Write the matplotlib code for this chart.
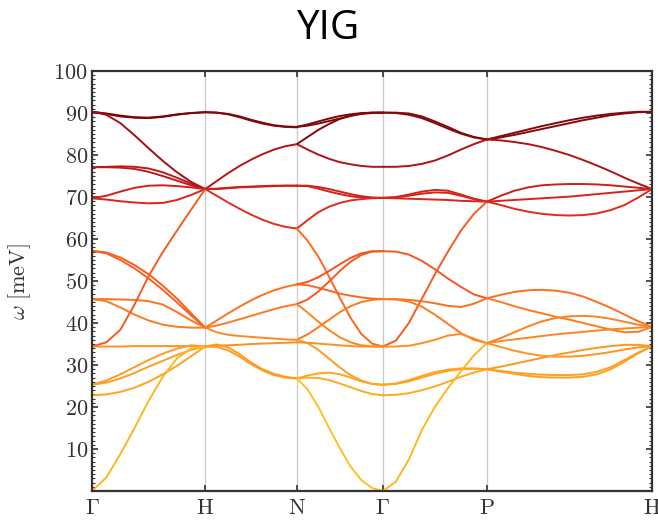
import numpy as np
import matplotlib
matplotlib.use("Agg")
import matplotlib.pyplot as plt
from matplotlib.colors import LinearSegmentedColormap
from matplotlib.ticker import MultipleLocator

plt.rcParams["mathtext.fontset"] = "cm"

# high-symmetry points along the path (cumulative k distance)
k_labels = [r"$\Gamma$", r"$\mathrm{H}$", r"$\mathrm{N}$", r"$\Gamma$", r"$\mathrm{P}$", r"$\mathrm{H}$"]
k_ticks = [0.0, 1.0, 1.81, 2.57, 3.49, 4.95]

# magnon energies (meV) sampled evenly along each segment
seg_G_H = [
    [90.3, 89.8, 89.2, 88.9, 88.8, 89.1, 89.6, 90.0, 90.2],
    [90.3, 89.9, 89.4, 89.0, 88.9, 89.2, 89.7, 90.0, 90.2],
    [90.3, 89.6, 87.6, 84.7, 81.6, 78.6, 75.9, 73.6, 71.9],
    [77.1, 77.2, 77.3, 77.2, 76.8, 75.9, 74.6, 73.2, 71.9],
    [77.1, 77.1, 77.0, 76.7, 76.0, 75.0, 73.9, 72.8, 71.9],
    [69.7, 70.3, 71.3, 72.2, 72.7, 72.8, 72.6, 72.3, 71.9],
    [69.7, 69.4, 69.0, 68.7, 68.5, 68.6, 69.3, 70.5, 71.9],
    [57.2, 56.8, 55.6, 53.8, 51.6, 48.9, 45.8, 42.3, 38.9],
    [57.2, 56.6, 55.0, 53.0, 50.6, 47.9, 44.9, 41.8, 38.9],
    [45.7, 45.7, 45.6, 45.5, 45.2, 44.4, 42.6, 40.6, 38.9],
    [45.7, 45.2, 43.7, 42.0, 40.6, 39.6, 39.1, 38.9, 38.9],
    [34.4, 35.4, 38.4, 44.4, 51.2, 56.9, 62.0, 67.0, 71.9],
    [34.4, 34.4, 34.4, 34.5, 34.5, 34.5, 34.5, 34.5, 34.4],
    [25.3, 26.3, 27.8, 29.5, 31.2, 32.7, 33.9, 34.7, 34.4],
    [25.3, 25.8, 26.8, 28.1, 29.6, 31.0, 32.4, 33.6, 34.4],
    [22.8, 23.0, 23.6, 24.6, 26.0, 27.8, 29.8, 32.1, 34.4],
    [0.0, 3.2, 8.8, 15.0, 21.5, 27.2, 31.6, 33.9, 34.4],
]

seg_H_N = [
    [90.2, 90.1, 89.8, 89.2, 88.4, 87.7, 87.1, 86.8, 86.7],
    [90.2, 90.1, 89.7, 89.0, 88.2, 87.5, 87.0, 86.7, 86.6],
    [71.9, 73.8, 75.7, 77.4, 78.9, 80.2, 81.3, 82.1, 82.6],
    [71.9, 72.0, 72.2, 72.4, 72.5, 72.6, 72.7, 72.7, 72.7],
    [71.9, 71.9, 72.1, 72.3, 72.4, 72.5, 72.6, 72.7, 72.7],
    [71.9, 70.3, 68.7, 67.2, 65.8, 64.6, 63.6, 62.9, 62.5],
    [38.9, 40.6, 42.3, 43.9, 45.4, 46.7, 47.8, 48.6, 49.2],
    [38.9, 39.4, 40.1, 40.9, 41.7, 42.5, 43.3, 44.0, 44.5],
    [38.9, 37.8, 37.2, 36.9, 36.7, 36.5, 36.3, 36.1, 36.0],
    [34.4, 34.6, 34.7, 34.8, 35.0, 35.1, 35.2, 35.3, 35.4],
    [34.4, 34.9, 34.2, 32.6, 30.6, 29.0, 27.9, 27.2, 26.8],
    [34.4, 34.3, 33.5, 32.0, 30.2, 28.7, 27.6, 27.0, 26.8],
]

seg_N_G = [
    [86.7, 87.3, 88.0, 88.7, 89.3, 89.7, 90.0, 90.1, 90.1],
    [86.7, 87.0, 87.5, 88.1, 88.7, 89.3, 89.8, 90.0, 90.1],
    [82.6, 84.3, 86.0, 87.4, 88.6, 89.4, 89.9, 90.1, 90.1],
    [82.6, 81.3, 80.1, 79.1, 78.3, 77.8, 77.4, 77.2, 77.2],
    [72.7, 72.7, 72.4, 71.9, 71.3, 70.7, 70.2, 69.9, 69.8],
    [72.7, 72.6, 72.0, 71.3, 70.7, 70.2, 69.9, 69.8, 69.8],
    [62.5, 64.5, 66.4, 67.7, 68.6, 69.2, 69.5, 69.7, 69.8],
    [62.5, 59.6, 55.8, 51.0, 46.0, 41.2, 37.4, 35.1, 34.4],
    [49.2, 49.8, 50.9, 52.4, 54.0, 55.5, 56.6, 57.1, 57.1],
    [49.2, 49.0, 48.4, 47.7, 47.0, 46.5, 46.1, 45.8, 45.7],
    [44.5, 45.6, 47.5, 49.9, 52.4, 54.6, 56.2, 57.0, 57.1],
    [44.5, 42.5, 40.3, 38.3, 36.6, 35.4, 34.7, 34.4, 34.4],
    [36.0, 37.3, 39.0, 40.8, 42.6, 44.0, 45.0, 45.5, 45.7],
    [36.0, 35.2, 33.6, 31.5, 29.4, 27.6, 26.3, 25.5, 25.3],
    [35.4, 35.3, 35.1, 34.9, 34.7, 34.5, 34.4, 34.4, 34.4],
    [26.8, 27.5, 28.0, 28.2, 27.8, 27.0, 26.1, 25.5, 25.3],
    [26.8, 27.0, 26.9, 26.4, 25.6, 24.7, 23.8, 23.1, 22.8],
    [26.8, 24.2, 20.0, 15.0, 10.2, 5.8, 2.6, 0.7, 0.0],
]

seg_G_P = [
    [90.1, 90.1, 89.9, 89.2, 88.0, 86.7, 85.3, 84.3, 83.7],
    [90.1, 90.0, 89.6, 88.8, 87.6, 86.3, 85.1, 84.2, 83.7],
    [77.2, 77.2, 77.4, 77.9, 78.7, 79.9, 81.3, 82.6, 83.7],
    [69.8, 70.0, 70.6, 71.3, 71.7, 71.5, 70.6, 69.6, 68.9],
    [69.8, 69.9, 70.3, 70.8, 71.1, 71.0, 70.3, 69.5, 68.9],
    [69.8, 69.7, 69.6, 69.5, 69.4, 69.3, 69.1, 69.0, 68.9],
    [34.4, 35.8, 40.0, 45.8, 51.6, 57.0, 62.0, 66.0, 68.9],
    [57.1, 57.0, 56.3, 54.8, 52.8, 50.6, 48.6, 46.8, 45.9],
    [45.7, 45.7, 45.5, 45.2, 44.7, 44.1, 43.8, 44.6, 45.9],
    [45.7, 45.6, 45.1, 43.9, 42.0, 39.8, 37.6, 36.0, 35.2],
    [34.4, 34.4, 34.6, 35.2, 36.0, 37.0, 37.4, 36.3, 35.2],
    [25.3, 25.6, 26.4, 27.4, 28.3, 28.9, 29.2, 29.2, 29.0],
    [25.3, 25.5, 26.1, 27.0, 27.9, 28.6, 29.0, 29.1, 29.0],
    [22.8, 22.9, 23.3, 24.0, 24.9, 26.0, 27.2, 28.2, 29.0],
    [0.0, 2.2, 7.5, 14.5, 20.0, 24.5, 28.5, 32.3, 35.2],
]

seg_P_H = [
    [83.7, 84.5, 85.3, 86.1, 86.9, 87.6, 88.3, 88.9, 89.4, 89.8, 90.1, 90.3, 90.3],
    [83.7, 84.2, 84.8, 85.5, 86.2, 86.9, 87.6, 88.3, 88.9, 89.5, 89.9, 90.2, 90.3],
    [83.7, 83.5, 83.1, 82.6, 81.9, 81.0, 80.0, 78.8, 77.5, 76.1, 74.6, 73.2, 71.9],
    [68.9, 70.3, 71.5, 72.3, 72.8, 73.0, 73.1, 73.1, 73.0, 72.8, 72.5, 72.2, 71.9],
    [68.9, 69.1, 69.3, 69.5, 69.7, 69.9, 70.1, 70.4, 70.7, 71.0, 71.3, 71.6, 71.9],
    [68.9, 68.1, 67.2, 66.5, 66.0, 65.7, 65.6, 65.7, 66.1, 66.9, 68.1, 69.9, 71.9],
    [45.9, 46.7, 47.4, 47.8, 47.9, 47.7, 47.2, 46.3, 45.0, 43.6, 42.0, 40.4, 39.1],
    [45.9, 45.0, 44.0, 43.1, 42.3, 41.5, 40.8, 40.0, 39.2, 38.4, 37.8, 37.9, 39.1],
    [35.2, 36.4, 37.8, 39.2, 40.4, 41.2, 41.6, 41.7, 41.5, 41.0, 40.3, 39.6, 39.1],
    [35.2, 35.7, 36.1, 36.5, 36.9, 37.3, 37.6, 37.9, 38.2, 38.5, 38.7, 38.9, 39.1],
    [35.2, 34.3, 33.4, 32.7, 32.2, 32.0, 32.0, 32.2, 32.6, 33.1, 33.7, 34.2, 34.5],
    [29.0, 29.6, 30.3, 31.0, 31.7, 32.4, 33.0, 33.6, 34.1, 34.5, 34.8, 34.8, 34.5],
    [29.0, 28.6, 28.2, 27.9, 27.7, 27.6, 27.6, 27.8, 28.4, 29.5, 31.2, 33.0, 34.5],
    [29.0, 28.4, 27.9, 27.4, 27.1, 27.0, 27.0, 27.2, 27.8, 29.0, 30.8, 32.8, 34.5],
]

segments = [seg_G_H, seg_H_N, seg_N_G, seg_G_P, seg_P_H]

# yellow (low energy) -> dark red (high energy)
band_cmap = LinearSegmentedColormap.from_list("magnon", [
    (0.0, "#ffd21f"), (22 / 90, "#ffb21f"), (34 / 90, "#ff921f"),
    (46 / 90, "#ff6a1e"), (57 / 90, "#f0471e"), (70 / 90, "#d8241a"),
    (78 / 90, "#b51418"), (1.0, "#780608"),
])

fig = plt.figure(figsize=(6.58, 5.21), dpi=100)
ax = fig.add_axes([0.14, 0.0576, 0.851, 0.806])

for k in k_ticks[1:-1]:
    ax.axvline(k, color="#cccccc", lw=1.0, zorder=0)

for i, seg in enumerate(segments):
    for band in seg:
        band = np.asarray(band)
        k = np.linspace(k_ticks[i], k_ticks[i + 1], len(band))
        ax.plot(k, band, color=band_cmap(min(band.mean(), 90) / 90),
                lw=1.4, solid_capstyle="round", solid_joinstyle="round", zorder=2)

ax.set_xlim(k_ticks[0], k_ticks[-1])
ax.set_ylim(0, 100)
ax.set_xticks(k_ticks)
ax.set_xticklabels(k_labels)
yt = np.arange(10, 101, 10)
ax.set_yticks(yt)
ax.set_yticklabels([f"${v}$" for v in yt])
ax.yaxis.set_minor_locator(MultipleLocator(1))

ax.tick_params(axis="both", which="major", direction="in", length=4, width=1.2,
               colors="#333333", labelsize=16, top=True, right=True)
ax.tick_params(axis="y", which="minor", direction="in", length=2, width=0.8,
               color="#333333", right=True)
ax.tick_params(axis="x", pad=5)
ax.tick_params(axis="y", pad=3)
for s in ax.spines.values():
    s.set_color("#333333")
    s.set_linewidth(1.6)

ax.set_ylabel(r"$\omega\ [\mathrm{meV}]$", fontsize=16, color="#333333")
ax.yaxis.set_label_coords(-0.105, 0.5)

fig.text(0.5, 0.945, "YIG", ha="center", va="center", fontsize=29, family="Open Sans")

fig.savefig("out.png", dpi=100)
